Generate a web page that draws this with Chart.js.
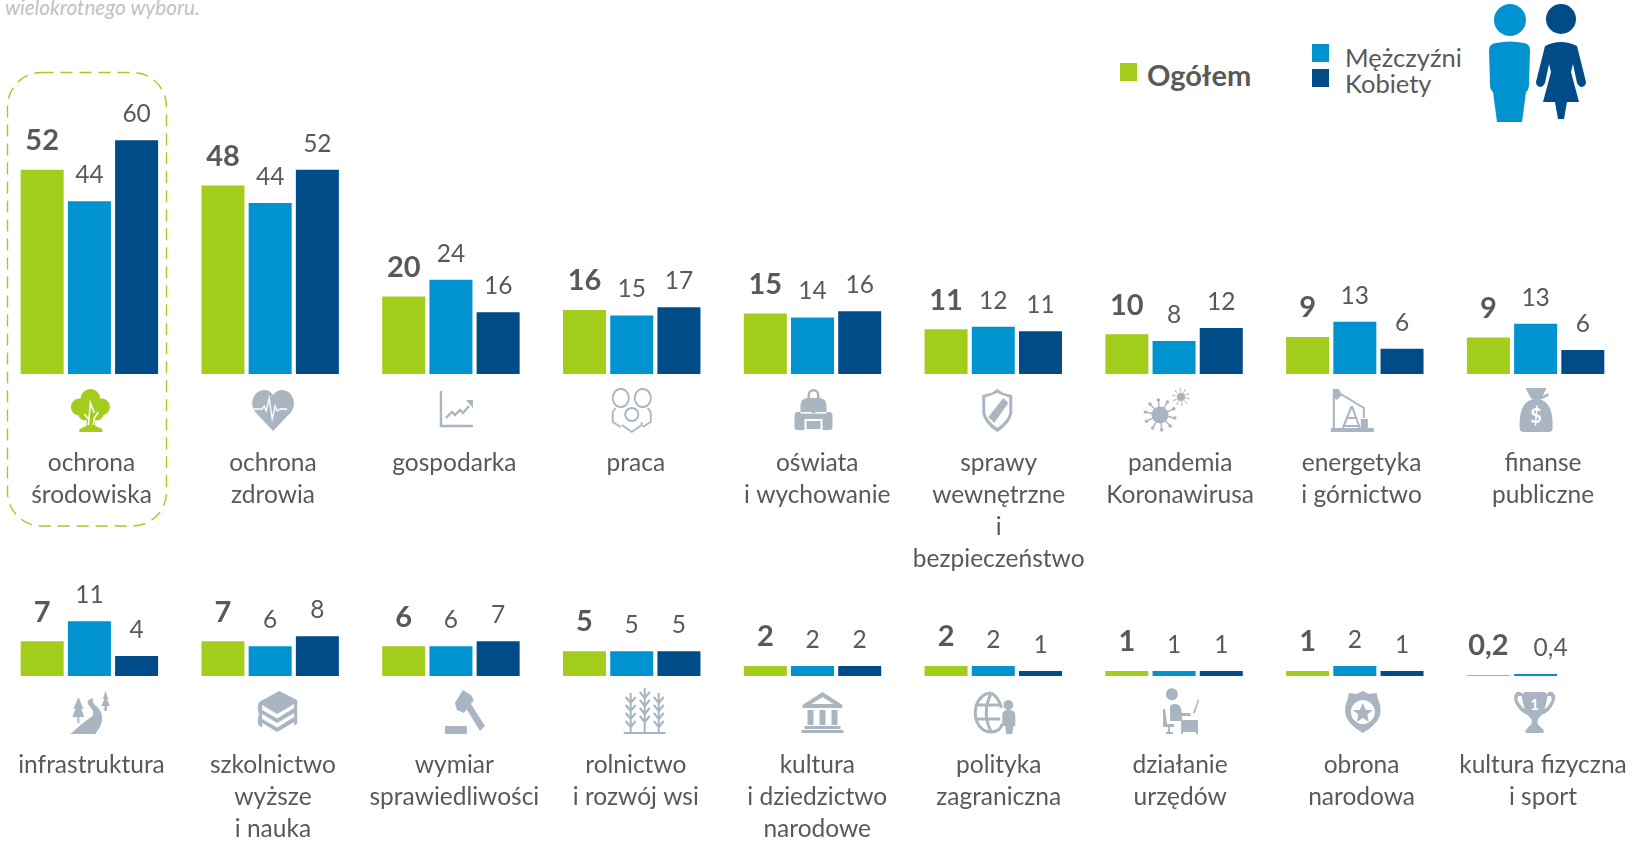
<!DOCTYPE html>
<html lang="pl"><head><meta charset="utf-8">
<style>
html,body{margin:0;padding:0;background:#fff;overflow:hidden;width:1644px;height:841px}
canvas{position:absolute;left:-1px}
.t{position:absolute;font-family:Lato,"Open Sans",sans-serif;color:#595959;white-space:nowrap;line-height:1}
.s{position:absolute}
</style>
<script src="https://cdn.jsdelivr.net/npm/chart.js@4/dist/chart.umd.min.js"></script>
</head><body>
<div class="t" style="left:5px;top:-3px;font-size:20.7px;font-style:italic;color:#bfc1c4">wielokrotnego wyboru.</div>
<div class="s" style="left:1120px;top:63px;width:17px;height:18px;background:#A2CD1A"></div>
<div class="t" style="left:1147px;top:60px;font-size:29px;font-weight:700">Ogółem</div>
<div class="s" style="left:1312px;top:44px;width:17px;height:18px;background:#0093CF"></div>
<div class="s" style="left:1312px;top:69px;width:17px;height:18px;background:#004C89"></div>
<div class="t" style="left:1345px;top:45px;font-size:25.5px">Mężczyźni</div>
<div class="t" style="left:1345px;top:71px;font-size:25.5px">Kobiety</div>
<svg class="s" style="left:1480px;top:0" width="120" height="126" viewBox="0 0 120 126">
<circle cx="30" cy="20" r="16" fill="#0093CF"/>
<path d="M9 50Q9 44 16 43Q30 40 44 43Q50 44 50 50L49 84Q49 90 46 92L42 122H17L13 92Q10 90 10 84Z" fill="#0093CF"/>
<circle cx="81" cy="19" r="15" fill="#004C89"/>
<path d="M65 46Q81 38 97 46L106 82Q106 86 102 87Q99 87 97 83L93 64L91 72L99 102H87L84 119H78L75 102H63L71 72L69 64L65 83Q63 87 60 87Q56 86 56 82Z" fill="#004C89"/>
</svg>
<canvas id="c1" width="1645" height="580" style="top:0;width:1645px;height:580px"></canvas>
<canvas id="c2" width="1645" height="261" style="top:580px;width:1645px;height:261px"></canvas>
<script>
const categoriesTop=[["ochrona","środowiska"],["ochrona","zdrowia"],"gospodarka","praca",["oświata","i wychowanie"],["sprawy","wewnętrzne","i","bezpieczeństwo"],["pandemia","Koronawirusa"],["energetyka","i górnictwo"],["finanse","publiczne"]];
const ogolemTop=[52,48,19.7,16.3,15.4,11.4,10.1,9.4,9.3];
const mezczyzniTop=[44,43.5,24,14.9,14.4,12,8.4,13.3,12.8];
const kobietyTop=[59.5,52,15.7,17,16,10.9,11.7,6.4,6.1];
const categoriesBottom=["infrastruktura",["szkolnictwo","wyższe","i nauka"],["wymiar","sprawiedliwości"],["rolnictwo","i rozwój wsi"],["kultura","i dziedzictwo","narodowe"],["polityka","zagraniczna"],["działanie","urzędów"],["obrona","narodowa"],["kultura fizyczna","i sport"]];
const ogolemBottom=[7,7,6,5,2,2,1,1,0.2];
const mezczyzniBottom=[11,6,6,5,2,2,1,2,0.4];
const kobietyBottom=[4,8,7,5,2,1,1,1,null];

const GREEN='#A2CD1A',BLUE='#0093CF',NAVY='#004C89',ICON='#A9B5C0',TEXT='#595959';
const FONT='Lato, "Open Sans", sans-serif';
function fmt(v){return v<1?String(v).replace('.',','):String(Math.round(v));}
function burst(c,cx,cy,r,R,d,lw){
  c.beginPath();c.arc(cx,cy,r,0,7);c.fill();
  c.lineWidth=lw;
  for(let a=0;a<10;a++){const t=a*Math.PI/5+.2,x=cx+R*Math.cos(t),y=cy+R*Math.sin(t);
    c.beginPath();c.moveTo(cx,cy);c.lineTo(x,y);c.stroke();
    c.beginPath();c.arc(x,y,d,0,7);c.fill();}
}
// simple pictograms drawn in a 44x44 box
const G={
tree:c=>{c.beginPath();for(const [x,y,r] of [[20,11,10],[9,19,8.5],[31,19,8.5],[15,25,7.5],[26,25,7.5]]){c.moveTo(x+r,y);c.arc(x,y,r,0,7);}c.fill();
  c.fill(new Path2D('M17 28L16 38L9 41V44H32V41L25 38L24 28Z'));
  c.strokeStyle='#fff';c.lineWidth=1.6;c.stroke(new Path2D('M18 37L20 15L24 25M23 37L24 30L28 24M18 31L14 26'));},
heart:c=>{c.fill(new Path2D('M22 43L4 24C-3 14 4 2 13 2c4 0 7 2 9 5c2-3 5-5 9-5c9 0 16 12 9 22Z'));c.strokeStyle='#fff';c.lineWidth=1.3;c.stroke(new Path2D('M1 21h10l2-3l2 5l3-13l3 21l3-13l2 5l3-2h7'));},
chart:c=>{c.lineWidth=2.4;c.stroke(new Path2D('M4 3V38H36'));c.stroke(new Path2D('M9 30l6-6l3 3l5-5l3 3l6-7'));c.fill(new Path2D('M29 12h7v8Z'));},
people:c=>{c.lineWidth=1.8;c.stroke(new Path2D('M11 1a8 9 0 1 0 .1 0ZM33 1a8 9 0 1 0 .1 0ZM22 20a6.500 6.500 0 1 0 .1 0ZM6 20L3 24V34L11 39M38 20L41 24V34L33 39M12 37L22 44L32 37V34'));},
backpack:c=>{c.fill(new Path2D('M16 7a6 6 0 0 1 12 0v3q7 1 7 7v7h4q2 1 2 4v11q0 3-3 3H6q-3 0-3-3V28q0-3 2-4h4v-7q0-6 7-7ZM18.500 7v3h7V7a3.500 3.500 0 0 0-7 0Z','evenodd'));c.fillStyle='#fff';c.fillRect(9,24,26,1.6);c.fillRect(13,31,18,11);c.fillStyle=ICON;c.fillRect(15,33,14,8);c.fillRect(20,20,4,5);},
shield:c=>{c.fill(new Path2D('M22 1L28 5L37 7V25Q35 36 22 44Q9 36 7 25V7L16 5ZM22 5L10 9.500V25Q12 33 22 40Q32 33 34 25V9.500Z','evenodd'));c.fill(new Path2D('M28 10L33 15L19 35L13 29Z'));},
virus:c=>{burst(c,15,27,8.5,15,1.8,1.4);burst(c,36,9,4,8,.8,.8);},
pump:c=>{c.lineWidth=2;c.stroke(new Path2D('M6 3L34 20V30M4 6V40M22 18L13 40M22 18L30 40M16 30H27M13 38H30'));c.fill(new Path2D('M1 40H44V44H1ZM3 1h6l3 6l-5 5l-4-3ZM31 31h7v9h-7Z'));},
bag:c=>{c.fill(new Path2D('M11 0H32L28 8L34 5V8L25 12H27Q38 16 38 36V40Q38 44 34 44H9Q5 44 5 40V36Q5 16 16 12H18L15 8Z'));c.fillStyle='#fff';c.font='bold 20px '+FONT;c.textAlign='center';c.textBaseline='middle';c.fillText('$',21.500,29);},
road:c=>{c.fill(new Path2D('M1 44Q14 32 22 27Q27 23 20 16Q15 10 24 8Q21 12 28 17Q36 26 31 36L26 44Z'));c.fill(new Path2D('M9 7l5 12h-2l3 8H10v6H8v-6H3l3-8H4ZM36 1l3 8h-1.500l3 7h-3v5h-2.500v-5H32l3-7h-1.500Z'));},
books:c=>{c.fill(new Path2D('M24 1L42 10V34L22 44L4 36Q1 30 4 24Q1 18 4 12Z'));c.fillStyle='#fff';for(const y of [0,9,18])c.fill(new Path2D(`M7 ${15+y}L22 ${24+y}L39 ${14+y}V${18+y}L22 ${28.500+y}L7 ${20+y}Z`));},
gavel:c=>{c.fill(new Path2D('M12 13L20 0L28 5L31 10L21 23L14 20ZM23 18L28 14L42 36L37 41ZM2 36H24V44H2Z'));},
wheat:c=>{c.lineWidth=2;for(const x of [7,21,35]){const t=x==21?-2:3;c.stroke(new Path2D(`M${x} ${t}V43M${x} ${t+10}l-5-6M${x} ${t+10}l5-6M${x} ${t+18}l-5-6M${x} ${t+18}l5-6M${x} ${t+26}l-5-6M${x} ${t+26}l5-6M${x} ${t+34}l-5-6M${x} ${t+34}l5-6`));}c.fill(new Path2D('M0 42H42V44H0Z'));},
bank:c=>{c.fill(new Path2D('M22 2L42 15V18H2V15ZM22 7L11 14H33Z','evenodd'));c.fill(new Path2D('M7 20h6v15H7ZM19 20h6v15h-6ZM31 20h6v15h-6ZM4 36H40V39H4ZM1 40H43V43H1Z'));},
globe:c=>{c.lineWidth=3;c.stroke(new Path2D('M17 3C7 3 1 13 1 23C1 33 7 42 17 42C24 42 27 37 28 34M1 15H26M1 29H26M17 3Q7 23 17 42M17 3Q25 8 27 18'));c.fill(new Path2D('M34 10a5 5 0 1 0 .1 0ZM28 25q0-5 6-5q7 0 7 5V36H39L38 44H32L31 36H28Z'));},
office:c=>{c.fill(new Path2D('M17 0a6 6 0 1 0 .1 0.100ZM11 17q0-3 5-3q5 0 6 5l1 4h8l1 3H23V31H11ZM22 30H39V44H37V42H24V44H22ZM34 23L39 9l1 1l-4 13ZM4 19h2l2 15h7v3H11V42h3v2H7V42H9V37H4Z'));},
badge:c=>{c.fill(new Path2D('M22 1L28 4L36 3L37 9Q41 16 39 26Q35 36 22 43Q9 36 5 26Q3 16 7 9L8 3L16 4ZM22 10a12 12 0 1 0 .1 0Z','evenodd'));c.fill(new Path2D('M22 13l3 7h7l-5.500 4.500L28 32l-6-4l-6 4l1.500-7.500L12 20h7Z'));},
trophy:c=>{c.fill(new Path2D('M12 2H32L34 4Q37 0 41 3Q45 8 39 17Q35 23 29 25Q26 28 25 30V34L31 40V43H13V40L19 34V30Q18 28 15 25Q9 23 5 17Q-1 8 3 3Q7 0 10 4ZM6 6Q3 9 8 15Q10 18 12 19Q10 12 9 6ZM38 6H35Q34 12 32 19Q34 18 36 15Q41 9 38 6Z','evenodd'));c.fillStyle='#fff';c.font='bold 16px '+FONT;c.textAlign='center';c.textBaseline='middle';c.fillText('1',22,15);}
};
const iconsTop=['tree','heart','chart','people','backpack','shield','virus','pump','bag'];
const iconShiftTop=[3,3,8,0,1,4,-7,-3,1];
const iconsBottom=['road','books','gavel','wheat','bank','globe','office','badge','trophy'];
const iconShiftBottom=[2,7,14,14,10,3,7,8,-1];

const rowPlugin=(icons,shifts,iconY,box)=>({
  id:'row',
  beforeDraw(chart){
    const s=chart.scales.x;
    const items=s.getLabelItems();
    if(!items._nudged){items._nudged=true;items.forEach((it,i)=>{it.options.translation[0]+=2.1+0.66*i;});}
    const c=chart.ctx;
    if(box){c.save();c.strokeStyle=GREEN;c.lineWidth=1.4;c.setLineDash([12,7]);c.beginPath();c.roundRect(8.5,72.5,159,453.5,34);c.stroke();c.restore();}
    icons.forEach((n,i)=>{
      const x=s.getPixelForTick(i)+shifts[i];
      c.save();c.translate(x-22,iconY);
      const col=(box&&i===0)?GREEN:ICON;
      c.fillStyle=col;c.strokeStyle=col;
      G[n](c);c.restore();
    });
  },
  afterDatasetsDraw(chart){
    const c=chart.ctx;c.save();c.textAlign='center';c.textBaseline='middle';c.fillStyle=TEXT;
    chart.data.datasets.forEach((d,di)=>{
      chart.getDatasetMeta(di).data.forEach((el,i)=>{
        const v=d.data[i];if(v==null)return;
        if(di===0){c.font='bold 29px '+FONT;c.fillText(fmt(v),el.x,el.y-29);}
        else{c.font='24.5px '+FONT;c.fillText(fmt(v),el.x+(v<1?15:0),el.y-26);}
      });
    });
    c.restore();
  }
});
function make(id,cats,a,b,k,yMax,axisH,pad,plugin){
  return new Chart(document.getElementById(id),{type:'bar',
    data:{labels:cats,datasets:[
      {label:'Ogółem',data:a,backgroundColor:GREEN},
      {label:'Mężczyźni',data:b,backgroundColor:BLUE},
      {label:'Kobiety',data:k,backgroundColor:NAVY}]},
    options:{responsive:false,animation:false,events:[],
      layout:{padding:{left:0,right:18,top:0,bottom:0}},
      plugins:{legend:{display:false},tooltip:{enabled:false}},
      datasets:{bar:{categoryPercentage:0.7834,barPercentage:0.911}},
      scales:{
        y:{display:false,min:0,max:yMax},
        x:{grid:{display:false},border:{display:false},
           afterFit(ax){ax.height=axisH;ax.paddingLeft=0;ax.paddingRight=0;},
           ticks:{autoSkip:false,maxRotation:0,minRotation:0,padding:pad,color:TEXT,
                  font:{family:FONT,size:24.5,lineHeight:1.306}}}
      }},
    plugins:[plugin]});
}
make('c1',categoriesTop,ogolemTop,mezczyzniTop,kobietyTop,95.2,206,65.5,rowPlugin(iconsTop,iconShiftTop,388,true));
make('c2',categoriesBottom,ogolemBottom,mezczyzniBottom,kobietyBottom,19.3,165,65.5,rowPlugin(iconsBottom,iconShiftBottom,110,false));
</script>
</body></html>
